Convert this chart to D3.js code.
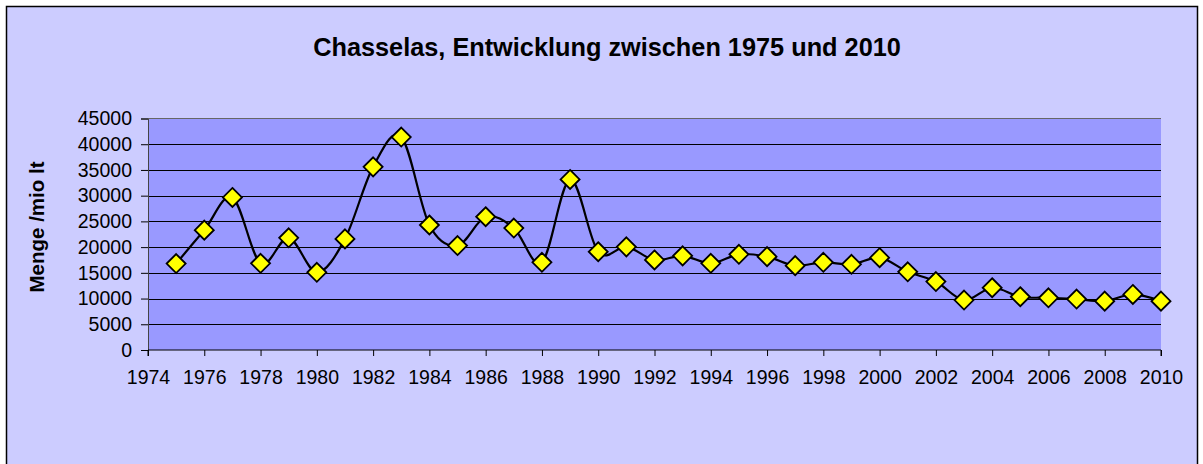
<!DOCTYPE html>
<html>
<head>
<meta charset="utf-8">
<script src="https://cdn.jsdelivr.net/npm/d3@7"></script>
<style>
  body { margin: 0; background: #ffffff; }
  svg { display: block; font-family: "Liberation Sans", Arial, sans-serif; }
</style>
</head>
<body>
<div id="chart"></div>
<script>
var years = [1975, 1976, 1977, 1978, 1979, 1980, 1981, 1982, 1983, 1984, 1985, 1986,
  1987, 1988, 1989, 1990, 1991, 1992, 1993, 1994, 1995, 1996, 1997, 1998, 1999,
  2000, 2001, 2002, 2003, 2004, 2005, 2006, 2007, 2008, 2009, 2010];
var menge = [16800, 23300, 29650, 16850, 21800, 15100, 21600, 35600, 41400, 24300,
  20300, 25900, 23700, 17050, 33150, 19100, 20050, 17500, 18300, 16850, 18600,
  18150, 16400, 17050, 16650, 17950, 15200, 13300, 9700, 12100, 10350, 10150,
  9900, 9500, 10800, 9500];
var yTicks = [0, 5000, 10000, 15000, 20000, 25000, 30000, 35000, 40000, 45000];
var xTicks = [1974, 1976, 1978, 1980, 1982, 1984, 1986, 1988, 1990, 1992, 1994,
  1996, 1998, 2000, 2002, 2004, 2006, 2008, 2010];

var width = 1203;
var height = 464;
var plot = { left: 148, right: 1161, top: 118.5, bottom: 350 };

var svg = d3.select('#chart')
  .append('svg')
  .attr('width', width)
  .attr('height', height);

// chart background with frame
svg.append('rect')
  .attr('x', 6.5)
  .attr('y', 6.5)
  .attr('width', 1191)
  .attr('height', 480)
  .attr('fill', '#ccccff')
  .attr('stroke', '#000')
  .attr('stroke-width', 1.5);

var x = d3.scaleLinear().domain([1974, 2010]).range([plot.left, plot.right]);
var y = d3.scaleLinear().domain([0, 45000]).range([plot.bottom, plot.top]);

svg.append('rect')
  .attr('x', plot.left)
  .attr('y', plot.top)
  .attr('width', plot.right - plot.left)
  .attr('height', plot.bottom - plot.top)
  .attr('fill', '#9999ff');

// gridlines
svg.append('g')
  .selectAll('line')
  .data(yTicks.filter(function(d) { return d > 0 && d < 45000; }))
  .enter()
  .append('line')
  .attr('x1', plot.left)
  .attr('x2', plot.right)
  .attr('y1', function(d) { return Math.round(y(d)) + 0.5; })
  .attr('y2', function(d) { return Math.round(y(d)) + 0.5; })
  .attr('stroke', '#000')
  .attr('stroke-width', 1);

// top border of plot area
svg.append('line')
  .attr('x1', plot.left)
  .attr('x2', plot.right)
  .attr('y1', plot.top)
  .attr('y2', plot.top)
  .attr('stroke', '#666')
  .attr('stroke-width', 1.2);

// y axis
var yAxis = d3.axisLeft(y)
  .tickValues(yTicks)
  .tickSize(7)
  .tickPadding(9)
  .tickFormat(d3.format('d'));

var gy = svg.append('g')
  .attr('transform', 'translate(' + plot.left + ',0)')
  .call(yAxis);
gy.select('.domain').attr('stroke', '#444');
gy.selectAll('.tick line').attr('stroke', '#000');
gy.selectAll('text')
  .attr('font-size', '19.5px')
  .attr('fill', '#000')
  .attr('font-family', '"Liberation Sans", Arial, sans-serif');

// x axis
var xAxis = d3.axisBottom(x)
  .tickValues(xTicks)
  .tickSize(6)
  .tickPadding(14)
  .tickFormat(d3.format('d'));

var gx = svg.append('g')
  .attr('transform', 'translate(0,' + plot.bottom + ')')
  .call(xAxis);
gx.select('.domain').attr('stroke', '#000').attr('d', 'M' + plot.left + ',6V0H' + plot.right + 'V6');
gx.selectAll('.tick line').attr('stroke', '#000');
gx.selectAll('text')
  .attr('font-size', '19.5px')
  .attr('fill', '#000')
  .attr('font-family', '"Liberation Sans", Arial, sans-serif');

// series line
var line = d3.line()
  .x(function(d, i) { return x(years[i]); })
  .y(function(d) { return y(d); })
  .curve(d3.curveCardinal.tension(0));

svg.append('path')
  .datum(menge)
  .attr('d', line)
  .attr('fill', 'none')
  .attr('stroke', '#000')
  .attr('stroke-width', 2.2);

// diamond markers
var r = 9.5;
svg.append('g')
  .selectAll('path')
  .data(menge)
  .enter()
  .append('path')
  .attr('d', function(d, i) {
    var cx = x(years[i]), cy = y(d);
    return 'M' + cx + ',' + (cy - r) + 'L' + (cx + r) + ',' + cy +
      'L' + cx + ',' + (cy + r) + 'L' + (cx - r) + ',' + cy + 'Z';
  })
  .attr('fill', '#ffff00')
  .attr('stroke', '#000')
  .attr('stroke-width', 1.8);

// title
svg.append('text')
  .attr('x', 607)
  .attr('y', 56)
  .attr('text-anchor', 'middle')
  .attr('font-size', '25.3px')
  .attr('font-weight', 'bold')
  .text('Chasselas, Entwicklung zwischen 1975 und 2010');

// y axis title
svg.append('text')
  .attr('transform', 'translate(44,' + 227 + ') rotate(-90)')
  .attr('text-anchor', 'middle')
  .attr('font-size', '20.5px')
  .attr('font-weight', 'bold')
  .text('Menge /mio lt');
</script>
</body>
</html>
